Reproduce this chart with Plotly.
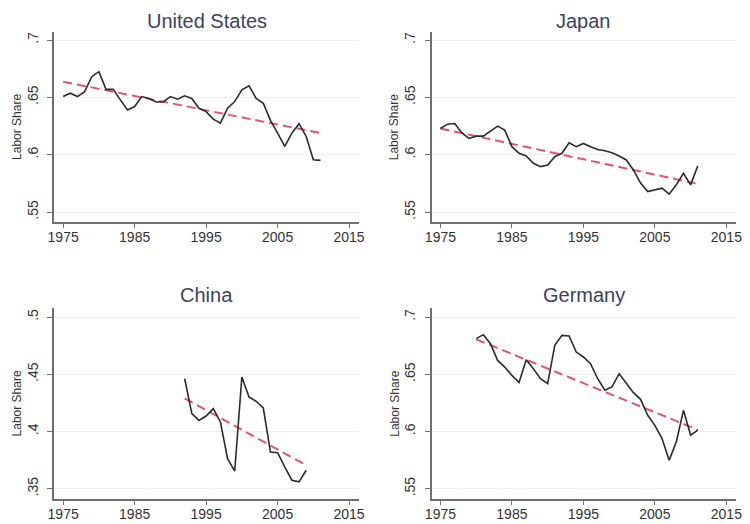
import plotly.graph_objects as go

# page body has an 8px margin, so the figure starts at (8, 8) in the window
OX, OY = 8, 8
W, H = 742, 516

# ---------------- data ----------------
us_years = list(range(1975, 2012))
us_share = [0.6507, 0.6536, 0.6507, 0.6550, 0.6680, 0.6724, 0.6570, 0.6570, 0.6478, 0.6390,
            0.6420, 0.6507, 0.6490, 0.6460, 0.6460, 0.6507, 0.6484, 0.6513, 0.6490, 0.6405,
            0.6376, 0.6310, 0.6275, 0.6405, 0.6463, 0.6565, 0.6600, 0.6490, 0.6449, 0.6300,
            0.6188, 0.6072, 0.6188, 0.6270, 0.6159, 0.5956, 0.5950]
us_trend_years = [1975, 2011]
us_trend = [0.6637, 0.6188]

jp_years = list(range(1975, 2012))
jp_share = [0.6228, 0.6266, 0.6272, 0.6190, 0.6142, 0.6162, 0.6162, 0.6208, 0.6249, 0.6214,
            0.6070, 0.6012, 0.5989, 0.5925, 0.5896, 0.5910, 0.5983, 0.6012, 0.6104, 0.6070,
            0.6098, 0.6070, 0.6046, 0.6035, 0.6017, 0.5989, 0.5954, 0.5867, 0.5752, 0.5679,
            0.5694, 0.5708, 0.5656, 0.5737, 0.5838, 0.5737, 0.5902]
jp_trend_years = [1975, 2011]
jp_trend = [0.6228, 0.5746]

cn_years = list(range(1992, 2010))
cn_share = [0.4461, 0.4156, 0.4097, 0.4135, 0.4200, 0.4083, 0.3763, 0.3653, 0.4476, 0.4301,
            0.4264, 0.4205, 0.3821, 0.3815, 0.3690, 0.3574, 0.3560, 0.3661]
cn_trend_years = [1992, 2009]
cn_trend = [0.4290, 0.3705]

de_years = list(range(1980, 2012))
de_share = [0.6811, 0.6846, 0.6767, 0.6621, 0.6563, 0.6490, 0.6427, 0.6627, 0.6549, 0.6461,
            0.6418, 0.6753, 0.6840, 0.6834, 0.6694, 0.6651, 0.6593, 0.6461, 0.6360, 0.6389,
            0.6505, 0.6418, 0.6339, 0.6281, 0.6142, 0.6054, 0.5938, 0.5749, 0.5909, 0.6185,
            0.5967, 0.6011]
de_trend_years = [1980, 2011]
de_trend = [0.6805, 0.6015]

x_ticks = [1975, 1985, 1995, 2005, 2015]
y_ticks_a = [0.55, 0.6, 0.65, 0.7]
y_text_a = [".55", ".6", ".65", ".7"]
y_ticks_b = [0.35, 0.4, 0.45, 0.5]
y_text_b = [".35", ".4", ".45", ".5"]

titles = ["United States", "Japan", "China", "Germany"]

# ---------------- layout geometry (window pixels) ----------------
panels = [
    # (x0, x1, ytop, ybottom, yrange, yticks, ytext)
    (48, 358, 32, 222, [0.5413, 0.707], y_ticks_a, y_text_a),
    (432, 742, 32, 222, [0.5413, 0.707], y_ticks_a, y_text_a),
    (48, 358, 308, 499, [0.341, 0.5079], y_ticks_b, y_text_b),
    (432, 742, 308, 499, [0.541, 0.7079], y_ticks_a, y_text_a),
]
series = [
    (us_years, us_share, us_trend_years, us_trend),
    (jp_years, jp_share, jp_trend_years, jp_trend),
    (cn_years, cn_share, cn_trend_years, cn_trend),
    (de_years, de_share, de_trend_years, de_trend),
]


def px(x):
    return (x - OX) / W


def py(y):
    return 1 - (y - OY) / H


LINE = "#2b2b2b"
TREND = "#e4526c"
AXIS = "#707070"
TXT = "#333333"
TITLE = "#3c4263"
FONT = "Liberation Sans, Arial, sans-serif"

fig = go.Figure()
layout = dict(
    width=W, height=H, margin=dict(l=0, r=0, t=0, b=0),
    paper_bgcolor="white", plot_bgcolor="white", showlegend=False,
    font=dict(family=FONT, color=TXT, size=13),
)
annotations = []

for i, ((x0, x1, yt, yb, yr, yt_vals, yt_text), (yrs, vals, tyrs, tvals)) in enumerate(zip(panels, series)):
    n = "" if i == 0 else str(i + 1)
    xa, ya = "x" + n, "y" + n
    fig.add_trace(go.Scatter(x=tyrs, y=tvals, mode="lines", xaxis=xa, yaxis=ya,
                             line=dict(color=TREND, width=2, dash="9px,5px")))
    fig.add_trace(go.Scatter(x=yrs, y=vals, mode="lines", xaxis=xa, yaxis=ya,
                             line=dict(color=LINE, width=1.6)))
    layout["xaxis" + n] = dict(
        domain=[px(x0), px(x1)], anchor=ya, range=[1973.76, 2016.37],
        tickvals=x_ticks, ticktext=[str(v) for v in x_ticks],
        showgrid=False, zeroline=False, showline=True, linecolor=AXIS, linewidth=1.6,
        ticks="outside", ticklen=4, tickcolor=AXIS, tickwidth=1.2,
        ticklabelstandoff=-3,
        tickfont=dict(size=14, color=TXT, family=FONT), fixedrange=True,
    )
    layout["yaxis" + n] = dict(
        domain=[py(yb), py(yt)], anchor=xa, range=yr,
        tickvals=yt_vals, ticktext=yt_text, tickangle=-90,
        showgrid=True, gridcolor="#efefef", gridwidth=1, zeroline=False,
        showline=True, linecolor=AXIS, linewidth=1.6,
        ticks="outside", ticklen=5, tickcolor=AXIS, tickwidth=1.2,
        ticklabelstandoff=4,
        tickfont=dict(size=14, color=TXT, family=FONT), fixedrange=True,
    )
    # title: pinned to the top of its band so the text box stays inside the figure
    title_top = OY if yt < 100 else 282
    annotations.append(dict(text=titles[i], x=px((x0 + x1) / 2), y=py(title_top),
                            xref="paper", yref="paper", xanchor="center", yanchor="top",
                            showarrow=False, font=dict(size=20, color=TITLE, family=FONT)))
    annotations.append(dict(text="Labor Share", x=px(x0 - 38), y=py((yt + yb) / 2),
                            xref="paper", yref="paper", xanchor="center", yanchor="middle",
                            textangle=-90, showarrow=False,
                            font=dict(size=12, color=TXT, family=FONT)))

layout["annotations"] = annotations
fig.update_layout(**layout)
fig.write_html("out.html")
